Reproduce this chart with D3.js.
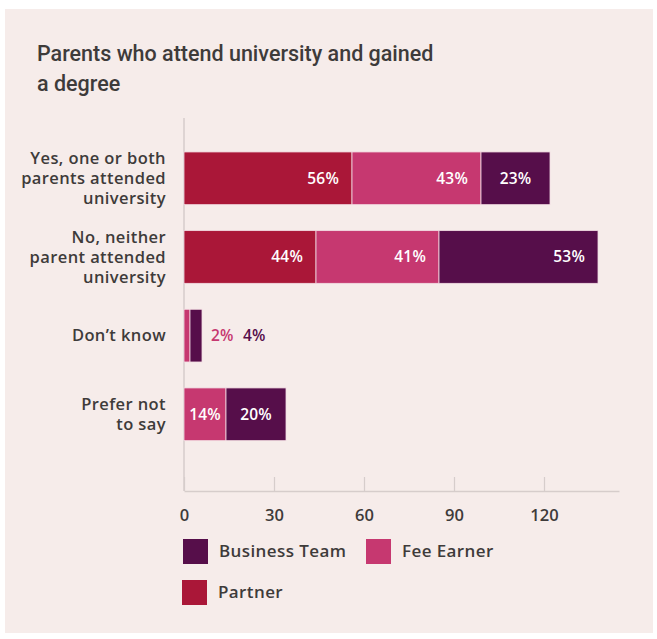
<!DOCTYPE html>
<html>
<head>
<meta charset="utf-8">
<script src="https://cdn.jsdelivr.net/npm/d3@7"></script>
<style>
  html, body { margin: 0; padding: 0; background: #ffffff; }
  svg { display: block; font-family: "Open Sans", "Noto Sans", sans-serif; }
</style>
</head>
<body>
<svg id="chart" width="657" height="639"></svg>
<script>
// Survey answers, one row per answer
const categories = [
  ["Yes, one or both", "parents attended", "university"],
  ["No, neither", "parent attended", "university"],
  ["Don\u2019t know"],
  ["Prefer not", "to say"]
];
const categoryKeys = ["yes", "no", "dontknow", "prefer"];

// Series, stacked left to right
const seriesNames = ["Partner", "Fee Earner", "Business Team"];
const partner      = [56, 44, 0, 0];
const feeEarner    = [43, 41, 2, 14];
const businessTeam = [23, 53, 4, 20];

const xTicks = [0, 30, 60, 90, 120];
const colors = ["#aa1738", "#c63870", "#560e4a"];
const textColor = "#3e3b3a";

const svg = d3.select("#chart");

// panel background
svg.append("rect")
  .attr("x", 5).attr("y", 9).attr("width", 648).attr("height", 624)
  .attr("fill", "#f6ecea");

// title
const title = svg.append("text")
  .attr("x", 37).attr("y", 61)
  .attr("fill", textColor)
  .style("font-family", "Roboto, sans-serif")
  .style("font-size", "21.5px").style("font-weight", 500);
title.append("tspan").attr("x", 37).attr("dy", 0).text("Parents who attend university and gained");
title.append("tspan").attr("x", 37).attr("dy", 30).text("a degree");

const x = d3.scaleLinear().domain([0, 145]).range([184, 619]);
const y = d3.scaleBand().domain(categoryKeys).range([126, 466.6]).padding(0.33);

const rows = categoryKeys.map((k, i) => ({
  key: k, Partner: partner[i], "Fee Earner": feeEarner[i], "Business Team": businessTeam[i]
}));
const stacked = d3.stack().keys(seriesNames)(rows);

// vertical baseline
svg.append("line")
  .attr("x1", x(0)).attr("x2", x(0))
  .attr("y1", 118).attr("y2", 491)
  .attr("stroke", "#d6cdcb").attr("stroke-width", 1.5);

// bottom axis with inward ticks
const axisG = svg.append("g")
  .attr("transform", "translate(0,491)")
  .call(d3.axisBottom(x).tickValues(xTicks).tickSize(-14).tickPadding(18).tickSizeOuter(0));
axisG.select(".domain").attr("stroke", "#d6cdcb").attr("stroke-width", 1.5);
axisG.selectAll(".tick line").attr("stroke", "#d6cdcb").attr("stroke-width", 1.2);
axisG.selectAll(".tick text")
  .attr("fill", textColor)
  .style("font-size", "16.5px").style("font-weight", 600)
  .style("font-family", "'Open Sans', sans-serif");

// bars
const layers = svg.append("g").selectAll("g")
  .data(stacked).join("g")
  .attr("fill", (d, i) => colors[i]);

layers.selectAll("rect")
  .data(d => d.map(v => ({ v, key: d.key })))
  .join("rect")
  .filter(d => d.v[1] - d.v[0] > 0)
  .attr("x", d => x(d.v[0]))
  .attr("y", d => y(d.v.data.key))
  .attr("width", d => x(d.v[1]) - x(d.v[0]))
  .attr("height", y.bandwidth())
  .attr("stroke", "#f3dde3")
  .attr("stroke-width", 0.8);

// value labels
const labelG = svg.append("g").style("font-size", "15.5px").style("font-weight", 600)
  .style("letter-spacing", "0.2px");
stacked.forEach((layer, si) => {
  layer.forEach(v => {
    const val = v[1] - v[0];
    if (val <= 0) return;
    const w = x(v[1]) - x(v[0]);
    const cy = y(v.data.key) + y.bandwidth() / 2;
    const t = labelG.append("text").attr("y", cy).attr("dy", "0.35em").text(val + "%");
    if (w < 30) return t.remove();
    if (w < 80) {
      t.attr("x", (x(v[0]) + x(v[1])) / 2).attr("text-anchor", "middle").attr("fill", "#ffffff");
    } else {
      t.attr("x", x(v[1]) - 13).attr("text-anchor", "end").attr("fill", "#ffffff");
    }
  });
});

// small segments are labelled beside the bar
const smallRow = rows.find(r => r.key === "dontknow");
{
  const cy = y("dontknow") + y.bandwidth() / 2;
  const end = x(smallRow.Partner + smallRow["Fee Earner"] + smallRow["Business Team"]);
  labelG.append("text").attr("x", end + 9).attr("y", cy).attr("dy", "0.35em")
    .attr("fill", colors[1]).text(smallRow["Fee Earner"] + "%");
  labelG.append("text").attr("x", end + 41).attr("y", cy).attr("dy", "0.35em")
    .attr("fill", colors[2]).text(smallRow["Business Team"] + "%");
}

// category labels
const catG = svg.append("g").style("font-size", "16.5px").style("font-weight", 600)
  .style("letter-spacing", "0.4px").attr("fill", textColor);
categoryKeys.forEach((k, i) => {
  const lines = categories[i];
  const cy = y(k) + y.bandwidth() / 2;
  const lh = 20;
  const t = catG.append("text").attr("text-anchor", "end");
  lines.forEach((ln, j) => {
    t.append("tspan").attr("x", 166)
      .attr("y", cy + (j - (lines.length - 1) / 2) * lh)
      .attr("dy", "0.35em").text(ln);
  });
});

// legend
const legendItems = [
  { name: "Business Team", color: colors[2], x: 183, y: 539 },
  { name: "Fee Earner", color: colors[1], x: 366, y: 539 },
  { name: "Partner", color: colors[0], x: 182, y: 580 }
];
const lg = svg.append("g").selectAll("g").data(legendItems).join("g")
  .attr("transform", d => `translate(${d.x},${d.y})`);
lg.append("rect").attr("width", 25).attr("height", 25).attr("fill", d => d.color);
lg.append("text").attr("x", 36).attr("y", 12.5).attr("dy", "0.35em")
  .attr("fill", textColor).style("font-size", "17px").style("font-weight", 600)
  .style("letter-spacing", "0.4px")
  .text(d => d.name);
</script>
</body>
</html>
